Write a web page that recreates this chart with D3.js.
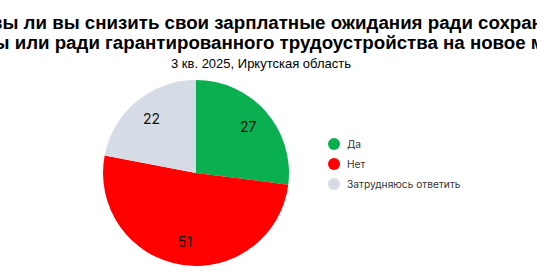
<!DOCTYPE html>
<html>
<head>
<meta charset="utf-8">
<script src="https://cdn.jsdelivr.net/npm/d3@7"></script>
<style>
  body{margin:0;background:#fff;}
  svg{display:block;}
</style>
</head>
<body>
<div id="chart"></div>
<script>
var categories = ["Да", "Нет", "Затрудняюсь ответить"];
var values = [27, 51, 22];
var colours = ["#0aaf50", "#ff0000", "#d6dce5"];
var titleLines = [
  "Готовы ли вы снизить свои зарплатные ожидания ради сохранения",
  "работы или ради гарантированного трудоустройства на новое место?"
];
var subtitle = "3 кв. 2025, Иркутская область";

var width = 537, height = 280;

var svg = d3.select("#chart")
  .append("svg")
  .attr("width", width)
  .attr("height", height);

// title (wider than the canvas, centred like the original)
svg.selectAll("text.title")
  .data(titleLines)
  .enter()
  .append("text")
  .attr("class", "title")
  .attr("x", width / 2)
  .attr("y", function(d, i){ return 28.5 + i * 20; })
  .attr("text-anchor", "middle")
  .style("font-family", "'Liberation Sans', Arial, sans-serif")
  .style("font-weight", "bold")
  .style("font-size", "18.7px")
  .style("fill", "#000")
  .text(function(d){ return d; });

svg.append("text")
  .attr("x", 261)
  .attr("y", 68)
  .attr("text-anchor", "middle")
  .style("font-family", "'Liberation Sans', Arial, sans-serif")
  .style("font-size", "13px")
  .style("fill", "#000")
  .text(subtitle);

var radius = 93;
var g = svg.append("g")
  .attr("transform", "translate(" + 196 + "," + 173 + ")");

var pie = d3.pie().sort(null).value(function(d){ return d; });
var arc = d3.arc().innerRadius(0).outerRadius(radius);
var labelArc = d3.arc().innerRadius(radius * 0.75).outerRadius(radius * 0.75);

var slices = pie(values);

g.selectAll("path.slice")
  .data(slices)
  .enter()
  .append("path")
  .attr("class", "slice")
  .attr("d", arc)
  .attr("fill", function(d, i){ return colours[i]; });

g.selectAll("text.lbl")
  .data(slices)
  .enter()
  .append("text")
  .attr("class", "lbl")
  .attr("transform", function(d){ return "translate(" + labelArc.centroid(d) + ")"; })
  .attr("text-anchor", "middle")
  .attr("dy", "0.35em")
  .style("font-family", "Inter, 'Noto Sans', sans-serif")
  .style("font-size", "14px")
  .style("fill", "#111")
  .text(function(d){ return d.data; });

// legend
var legend = svg.append("g")
  .attr("transform", "translate(334,144)");

var items = legend.selectAll("g.item")
  .data(categories)
  .enter()
  .append("g")
  .attr("class", "item")
  .attr("transform", function(d, i){ return "translate(0," + i * 20 + ")"; });

items.append("circle")
  .attr("r", 6)
  .attr("fill", function(d, i){ return colours[i]; });

items.append("text")
  .attr("x", 13)
  .attr("dy", "0.35em")
  .style("font-family", "Inter, 'Noto Sans', sans-serif")
  .style("font-size", "10.2px")
  .style("fill", "#333")
  .text(function(d){ return d; });
</script>
</body>
</html>
